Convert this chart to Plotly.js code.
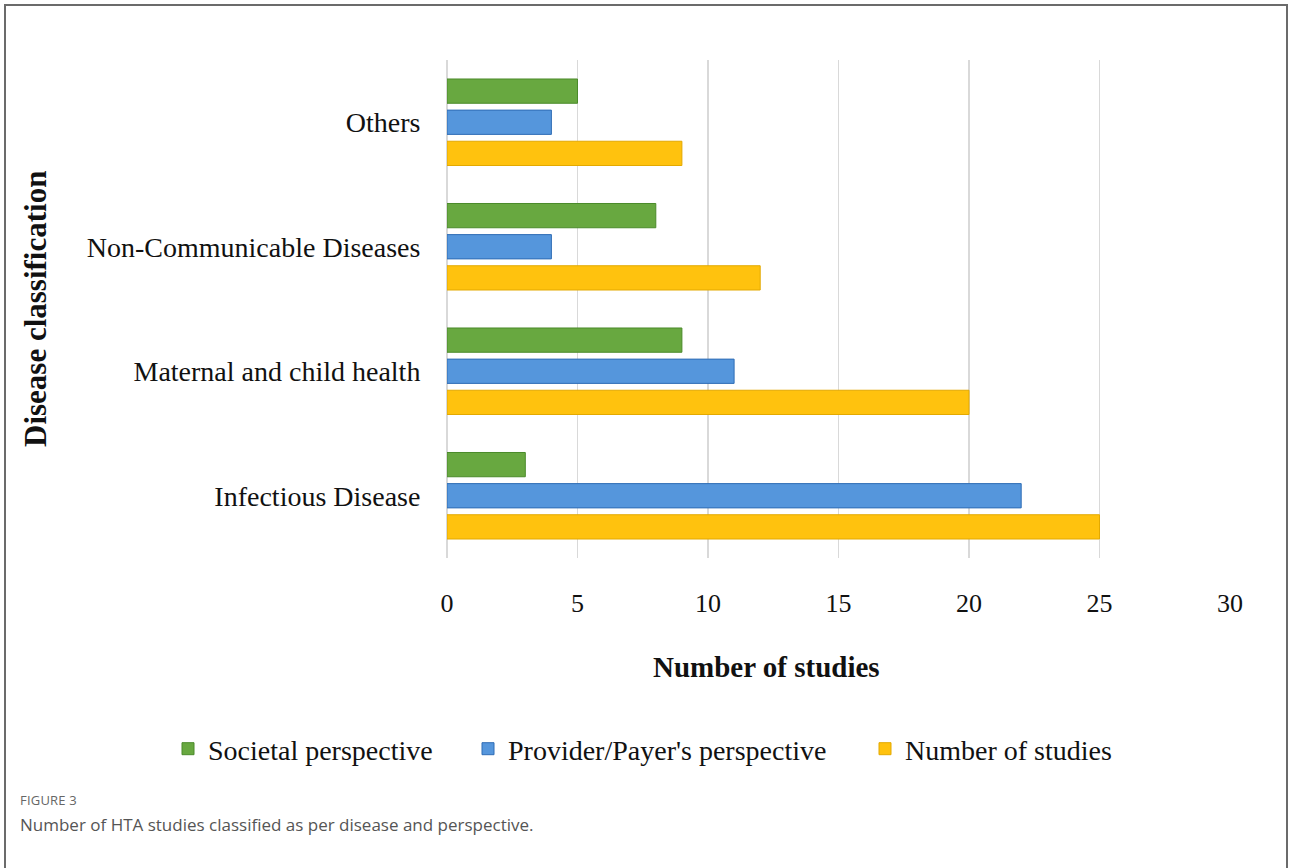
<!DOCTYPE html>
<html>
<head>
<meta charset="utf-8">
<script src="https://cdn.plot.ly/plotly-3.0.1.min.js"></script>
<style>
  body { margin: 0; background: #fff; }
  #wrap { position: relative; width: 1290px; height: 868px; overflow: hidden; background: #fff; }
  #frame { position: absolute; left: 4px; top: 4px; width: 1284px; height: 920px; border: 2px solid #6b6b6b; box-sizing: border-box; }
  #chart { position: absolute; left: 0; top: 0; width: 1290px; height: 868px; }
  .cap1 { position: absolute; left: 20px; top: 791px; font-family: 'Open Sans', sans-serif; font-size: 13px; color: #666; letter-spacing: 0.2px; }
  .cap2 { position: absolute; left: 20px; top: 813px; font-family: 'Open Sans', sans-serif; font-size: 17px; color: #555; }
</style>
</head>
<body>
<div id="wrap">
  <div id="frame"></div>
  <div id="chart"></div>
  <div class="cap1">FIGURE 3</div>
  <div class="cap2">Number of HTA studies classified as per disease and perspective.</div>
</div>
<script>
// Categories, bottom to top
const categories = ['Infectious Disease', 'Maternal and child health', 'Non-Communicable Diseases', 'Others'];
// Series values (aligned with categories)
const societal = [3, 9, 8, 5];
const provider = [22, 11, 4, 4];
const numberOfStudies = [25, 20, 12, 9];
const seriesNames = ['Societal perspective', "Provider/Payer's perspective", 'Number of studies'];
const xTicks = [0, 5, 10, 15, 20, 25, 30];

const serif = 'Liberation Serif, Times New Roman, serif';

const traces = [
  { type: 'bar', orientation: 'h', name: seriesNames[2], y: categories, x: numberOfStudies, legend: 'legend3',
    marker: { color: '#ffc20e', line: { color: '#e3a900', width: 1 } } },
  { type: 'bar', orientation: 'h', name: seriesNames[1], y: categories, x: provider, legend: 'legend2',
    marker: { color: '#5596dc', line: { color: '#2f6db5', width: 1 } } },
  { type: 'bar', orientation: 'h', name: seriesNames[0], y: categories, x: societal, legend: 'legend',
    marker: { color: '#68a840', line: { color: '#4a8a2a', width: 1 } } }
];

function legendAt(textStartPx) {
  return {
    orientation: 'h',
    xref: 'container', yref: 'container',
    x: (textStartPx - 40) / 1290, xanchor: 'left',
    y: 1 - 749 / 868, yanchor: 'middle',
    font: { family: serif, size: 28, color: '#111' },
    itemwidth: 30,
    bgcolor: 'rgba(0,0,0,0)'
  };
}

const layout = {
  width: 1290, height: 868,
  margin: { l: 447, r: 60, t: 60, b: 310 },
  paper_bgcolor: 'rgba(0,0,0,0)',
  plot_bgcolor: 'rgba(0,0,0,0)',
  barmode: 'group',
  bargap: 0.25,
  bargroupgap: 0.22,
  showlegend: true,
  hovermode: false,
  xaxis: {
    range: [0, 30], tickvals: xTicks, ticktext: xTicks.map(String),
    showgrid: true, gridcolor: '#d9d9d9', gridwidth: 1.5,
    zeroline: true, zerolinecolor: '#d9d9d9', zerolinewidth: 1.5,
    showline: false,
    ticks: 'outside', ticklen: 22, tickcolor: 'rgba(0,0,0,0)',
    tickfont: { family: serif, size: 26, color: '#111' },
    fixedrange: true
  },
  yaxis: {
    type: 'category', categoryorder: 'array', categoryarray: categories,
    showgrid: false, zeroline: false, showline: false,
    ticks: 'outside', ticklen: 20, tickcolor: 'rgba(0,0,0,0)',
    tickfont: { family: serif, size: 28, color: '#111' },
    fixedrange: true
  },
  legend: legendAt(208),
  legend2: legendAt(508),
  legend3: legendAt(905),
  annotations: [
    { text: '<b>Number of studies</b>', xref: 'paper', yref: 'paper',
      x: (766 - 447) / 783, y: (558 - 667) / 498, xanchor: 'center', yanchor: 'middle',
      showarrow: false, font: { family: serif, size: 29, color: '#111' } },
    { text: '<b>Disease classification</b>', xref: 'paper', yref: 'paper',
      x: (35 - 447) / 783, y: 0.5, xanchor: 'center', yanchor: 'middle', textangle: -90,
      showarrow: false, font: { family: serif, size: 31, color: '#111' } }
  ]
};

Plotly.newPlot('chart', traces, layout, { displayModeBar: false, staticPlot: true });
</script>
</body>
</html>
